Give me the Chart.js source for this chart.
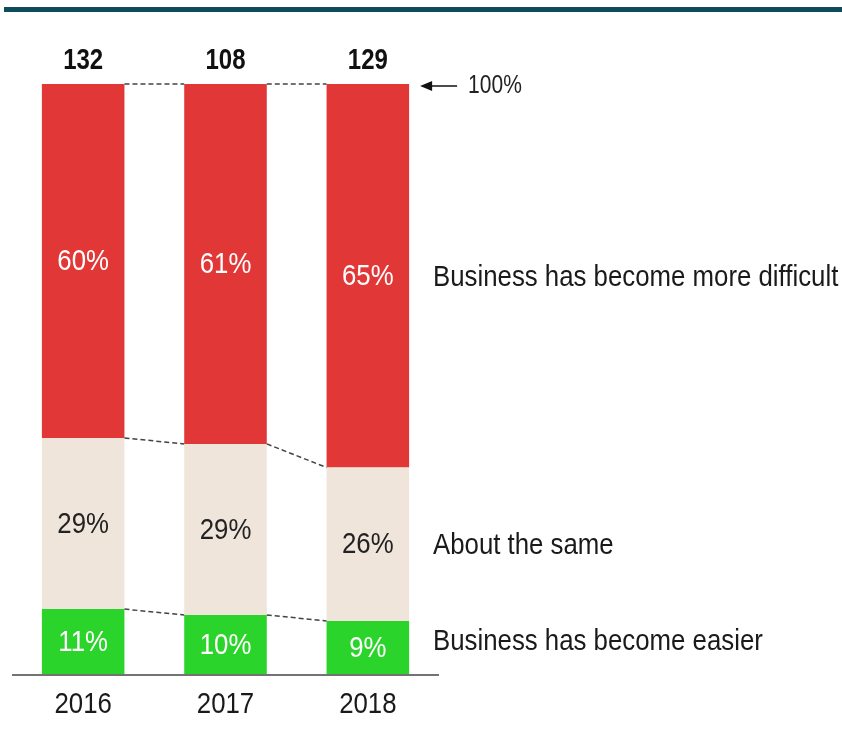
<!DOCTYPE html>
<html>
<head>
<meta charset="utf-8">
<script src="https://cdn.jsdelivr.net/npm/chart.js@4/dist/chart.umd.min.js"></script>
<style>
  html, body { margin: 0; padding: 0; background: #ffffff; }
  #wrap { width: 842px; height: 753px; }
</style>
</head>
<body>
<div id="wrap"><canvas id="c" width="842" height="753"></canvas></div>
<script>
const years = ['2016', '2017', '2018'];
const totals = [132, 108, 129];
const easier = [11, 10, 9];
const same = [29, 29, 26];
const harder = [60, 61, 65];
const seriesNames = ['Business has become easier', 'About the same', 'Business has become more difficult'];
const topMarker = '100%';

const FONT = '"Liberation Sans", Arial, sans-serif';
const SX = 0.86;
const SXB = 0.8;
const colors = ['#2bd42a', '#f0e5da', '#e23737'];
const labelColors = ['#ffffff', '#222222', '#ffffff'];

function narrowText(ctx, text, x, y, align, font, color, sx) {
  ctx.save();
  ctx.translate(x, y);
  ctx.scale(sx || SX, 1);
  ctx.font = font;
  ctx.fillStyle = color;
  ctx.textAlign = align;
  ctx.textBaseline = 'middle';
  ctx.fillText(text, 0, 0);
  ctx.restore();
}

const overlay = {
  id: 'overlay',
  afterDatasetsDraw(chart) {
    const ctx = chart.ctx;
    const metas = [0, 1, 2].map(i => chart.getDatasetMeta(i));
    const xs = chart.scales.x;
    ctx.save();

    // top rule
    ctx.fillStyle = '#0e4b5d';
    ctx.fillRect(4, 7, 838, 5);

    // dashed connectors
    ctx.strokeStyle = '#444444';
    ctx.lineWidth = 1.5;
    ctx.setLineDash([5, 3]);
    for (let i = 0; i < years.length - 1; i++) {
      for (let d = 0; d < 3; d++) {
        const a = metas[d].data[i], b = metas[d].data[i + 1];
        ctx.beginPath();
        ctx.moveTo(a.x + a.width / 2, a.y);
        ctx.lineTo(b.x - b.width / 2, b.y);
        ctx.stroke();
      }
    }
    ctx.setLineDash([]);

    // axis line
    ctx.strokeStyle = '#444444';
    ctx.lineWidth = 1.5;
    ctx.beginPath();
    ctx.moveTo(chart.chartArea.left, chart.chartArea.bottom + 1);
    ctx.lineTo(chart.chartArea.right, chart.chartArea.bottom + 1);
    ctx.stroke();

    // category labels
    years.forEach((yr, i) => {
      narrowText(ctx, yr, xs.getPixelForValue(i), chart.chartArea.bottom + 31, 'center', '30px ' + FONT, '#1a1a1a');
    });

    // segment labels
    const data = [easier, same, harder];
    for (let d = 0; d < 3; d++) {
      metas[d].data.forEach((bar, i) => {
        narrowText(ctx, data[d][i] + '%', bar.x, (bar.y + bar.base) / 2 + 1, 'center', '30px ' + FONT, labelColors[d]);
      });
    }

    // totals
    metas[2].data.forEach((bar, i) => {
      narrowText(ctx, String(totals[i]), bar.x, bar.y - 23, 'center', 'bold 30px ' + FONT, '#111111', SXB);
    });

    // right-side series labels
    const last = years.length - 1;
    const lx = 433;
    for (let d = 0; d < 3; d++) {
      const bar = metas[d].data[last];
      narrowText(ctx, seriesNames[d], lx, (bar.y + bar.base) / 2 + (d === 0 ? -6 : 2), 'left', '30px ' + FONT, '#1a1a1a');
    }

    // 100% arrow
    const lb = metas[2].data[last];
    const ay = lb.y + 2;
    const ax0 = lb.x + lb.width / 2 + 11;
    ctx.strokeStyle = '#111111';
    ctx.fillStyle = '#111111';
    ctx.lineWidth = 1.5;
    ctx.beginPath();
    ctx.moveTo(ax0 + 8, ay);
    ctx.lineTo(ax0 + 37, ay);
    ctx.stroke();
    ctx.beginPath();
    ctx.moveTo(ax0, ay);
    ctx.lineTo(ax0 + 12, ay - 5);
    ctx.lineTo(ax0 + 12, ay + 5);
    ctx.closePath();
    ctx.fill();
    narrowText(ctx, topMarker, ax0 + 48, ay, 'left', '25px ' + FONT, '#222222', 0.84);

    ctx.restore();
  }
};

new Chart(document.getElementById('c'), {
  type: 'bar',
  data: {
    labels: years,
    datasets: [
      { label: seriesNames[0], data: easier, backgroundColor: colors[0] },
      { label: seriesNames[1], data: same, backgroundColor: colors[1] },
      { label: seriesNames[2], data: harder, backgroundColor: colors[2] }
    ]
  },
  options: {
    responsive: false,
    animation: false,
    layout: { padding: { left: 12, right: 403, top: 84, bottom: 79 } },
    datasets: { bar: { categoryPercentage: 1, barPercentage: 0.58, borderWidth: 0 } },
    plugins: { legend: { display: false }, tooltip: { enabled: false } },
    scales: {
      x: { stacked: true, display: false },
      y: { stacked: true, display: false, min: 0, max: 100 }
    }
  },
  plugins: [overlay]
});
</script>
</body>
</html>
